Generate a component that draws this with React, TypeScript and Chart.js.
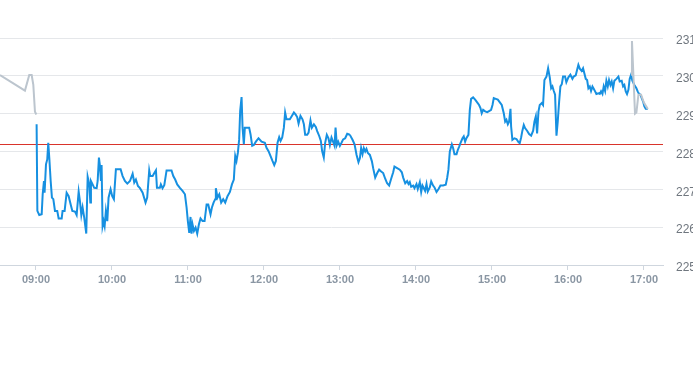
import React, { useEffect, useRef } from "react";
import { Chart, registerables } from "chart.js";

Chart.register(...registerables);

// x values: minutes since midnight
const xMin = 511.6;
const xMax = 1035;
const hourTicks = [540, 600, 660, 720, 780, 840, 900, 960, 1020];
const yTicks = [225, 226, 227, 228, 229, 230, 231];
const previousClose = 228.21;

const preTimes = [511.6, 531.3, 534.7, 536.6, 537.9, 539.2, 540.3];
const prePrices = [230.02, 229.61, 230.02, 230.02, 229.76, 229.05, 228.98];

const postTimes = [1009.8, 1010.5, 1012.9, 1014.0, 1015.6, 1017.7, 1019.8, 1023.0];
const postPrices = [230.03, 230.92, 229.0, 229.03, 229.5, 229.5, 229.3, 229.12];

const mainTimes = [
  540.5, 541.1, 542.6, 544.5, 545.3, 546.3, 546.8, 547.9, 548.9, 549.7, 550.5, 551.6, 552.6, 553.7, 555.0, 556.8,
  557.9, 560.3, 561.0, 562.6, 564.2, 565.8, 567.4, 568.7, 570.8, 572.1, 573.7, 574.7, 575.8, 576.8, 578.1, 579.7,
  580.8, 582.1, 582.9, 583.4, 584.7, 586.0, 587.9, 588.7, 589.7, 590.5, 591.3, 591.8, 592.6, 593.4, 594.2, 595.2,
  596.3, 597.3, 598.9, 600.2, 601.5, 603.1, 606.8, 608.4, 610.2, 612.1, 614.2, 616.3, 617.6, 618.9, 620.5, 622.1,
  624.2, 626.5, 627.8, 629.4, 630.2, 632.1, 633.1, 634.7, 635.5, 637.8, 638.6, 639.9, 641.3, 643.1, 647.0, 648.4,
  649.9, 651.5, 653.6, 655.7, 657.6, 658.9, 659.9, 661.0, 662.0, 662.8, 663.6, 664.7, 666.0, 667.3, 668.6, 669.9,
  671.5, 673.1, 674.7, 676.0, 677.8, 678.9, 680.2, 681.5, 682.0, 683.3, 684.7, 686.2, 687.8, 689.4, 691.2, 693.1,
  694.7, 696.2, 697.3, 698.3, 699.4, 700.4, 701.2, 702.3, 703.1, 704.1, 704.9, 708.3, 709.4, 710.7, 712.0, 713.6,
  715.7, 718.1, 720.7, 722.0, 723.6, 725.2, 726.7, 728.1, 729.4, 730.7, 732.0, 733.1, 734.4, 735.7, 736.7, 737.8,
  740.4, 742.0, 743.6, 744.9, 746.2, 747.3, 748.8, 750.4, 751.5, 752.5, 754.1, 755.2, 756.7, 757.8, 759.4, 760.9,
  762.0, 763.6, 764.9, 765.9, 767.2, 768.3, 769.6, 770.9, 772.0, 773.3, 774.3, 775.7, 776.5, 777.5, 778.6, 779.9,
  781.2, 782.5, 784.1, 785.7, 787.2, 787.8, 789.9, 791.5, 793.1, 794.6, 795.7, 796.7, 797.8, 798.8, 799.9, 800.9,
  802.0, 803.6, 805.2, 806.2, 807.8, 809.4, 810.9, 812.5, 814.1, 815.7, 817.2, 818.8, 820.4, 822.0, 823.0, 825.1,
  827.2, 828.8, 829.9, 831.5, 833.0, 834.1, 835.1, 836.2, 837.8, 838.8, 840.4, 841.4, 843.0, 844.1, 845.1, 846.2,
  847.2, 848.3, 849.3, 850.9, 852.0, 853.5, 854.6, 856.2, 857.8, 859.3, 861.4, 863.5, 864.6, 865.6, 866.7, 868.3,
  869.3, 870.4, 872.0, 873.0, 874.1, 875.1, 876.7, 877.7, 878.8, 879.8, 881.4, 882.5, 883.5, 885.1, 886.7, 888.3,
  889.8, 890.9, 891.9, 893.0, 894.6, 896.2, 897.7, 899.3, 900.4, 901.4, 903.0, 904.6, 906.2, 907.7, 909.3, 910.4,
  911.4, 912.5, 913.5, 914.6, 915.1, 916.1, 917.7, 919.3, 920.9, 921.9, 923.0, 924.0, 925.1, 926.1, 927.7, 929.3,
  930.9, 932.5, 933.5, 934.6, 935.6, 936.7, 937.7, 939.3, 940.3, 941.4, 943.0, 944.3, 945.6, 946.7, 947.7, 948.8,
  949.8, 950.9, 951.9, 953.0, 954.0, 955.1, 956.1, 957.7, 958.7, 960.3, 961.9, 963.5, 964.5, 966.1, 967.2, 968.2,
  969.3, 970.8, 971.9, 972.9, 974.0, 975.1, 976.1, 977.2, 978.2, 979.3, 980.3, 981.4, 982.4, 984.0, 985.1, 986.1,
  987.2, 988.2, 989.3, 990.3, 991.4, 992.4, 993.5, 994.5, 995.6, 996.6, 998.2, 999.8, 1000.8, 1002.4, 1003.5, 1004.5,
  1005.6, 1006.6, 1007.7, 1008.7, 1009.8, 1010.8, 1012.4, 1014.0, 1015.0, 1016.1, 1017.2, 1018.2, 1019.3, 1020.3, 1021.4, 1023.0,
];

const mainPrices = [
  228.72, 226.43, 226.32, 226.34, 226.87, 227.22, 226.91, 227.66, 227.79, 228.23, 227.84, 227.22, 226.78, 226.74, 226.43, 226.43,
  226.23, 226.23, 226.43, 226.43, 226.91, 226.82, 226.6, 226.43, 226.41, 226.32, 226.94, 226.69, 226.32, 226.52, 226.25, 225.83,
  227.33, 227.13, 226.65, 227.22, 227.13, 227.04, 227.03, 227.22, 227.84, 227.62, 227.22, 227.64, 226.03, 226.16, 226.03, 226.43,
  226.16, 226.78, 227.0, 226.82, 226.74, 227.53, 227.53, 227.35, 227.22, 227.15, 227.22, 227.41, 227.18, 227.26, 227.09, 227.03,
  226.91, 226.65, 226.78, 227.5, 227.35, 227.35, 227.41, 227.5, 227.04, 227.04, 227.13, 227.03, 227.11, 227.5, 227.5, 227.35,
  227.26, 227.13, 227.04, 226.96, 226.87, 226.52, 226.16, 225.85, 226.27, 225.83, 226.07, 225.9, 225.99, 225.83, 226.07, 226.23,
  226.16, 226.16, 226.6, 226.6, 226.34, 226.52, 226.65, 226.74, 227.03, 226.78, 226.87, 226.65, 226.74, 226.65, 226.82, 226.93,
  227.13, 227.26, 227.88, 227.75, 227.97, 228.32, 229.07, 229.44, 228.63, 228.19, 228.63, 228.63, 228.45, 228.15, 228.17, 228.26,
  228.35, 228.26, 228.23, 228.1, 228.01, 227.88, 227.75, 227.64, 227.75, 228.23, 228.38, 228.28, 228.37, 228.63, 229.03, 228.85,
  228.85, 228.94, 229.03, 228.98, 228.91, 228.74, 228.94, 228.85, 228.72, 228.44, 228.44, 228.5, 228.82, 228.63, 228.72, 228.65,
  228.54, 228.41, 228.28, 228.01, 227.84, 228.23, 228.44, 228.35, 228.17, 228.37, 228.28, 228.15, 228.63, 228.17, 228.26, 228.15,
  228.23, 228.32, 228.35, 228.47, 228.45, 228.44, 228.31, 228.19, 227.91, 227.72, 227.82, 228.09, 227.93, 228.09, 228.0, 228.07,
  227.96, 227.91, 227.74, 227.56, 227.31, 227.43, 227.52, 227.47, 227.43, 227.28, 227.16, 227.1, 227.28, 227.45, 227.6, 227.56,
  227.52, 227.45, 227.31, 227.16, 227.22, 227.14, 227.19, 227.07, 227.1, 227.03, 227.14, 227.01, 227.19, 226.93, 227.1, 227.03,
  226.96, 227.14, 226.94, 227.05, 227.21, 227.1, 227.05, 226.93, 227.01, 227.1, 227.1, 227.12, 227.3, 227.52, 228.0, 228.19,
  228.09, 227.93, 227.93, 228.04, 228.13, 228.22, 228.35, 228.4, 228.26, 228.35, 228.44, 229.1, 229.39, 229.43, 229.37, 229.3,
  229.23, 229.15, 229.01, 229.1, 229.06, 229.04, 229.07, 229.1, 229.23, 229.41, 229.39, 229.37, 229.3, 229.23, 229.01, 228.79,
  228.84, 228.72, 228.79, 229.13, 228.66, 228.31, 228.35, 228.33, 228.25, 228.22, 228.37, 228.55, 228.7, 228.62, 228.55, 228.46,
  228.42, 228.55, 228.79, 228.93, 228.48, 229.06, 229.23, 229.28, 229.23, 229.89, 229.98, 230.2, 229.96, 229.67, 229.72, 229.6,
  229.5, 228.42, 228.79, 229.32, 229.72, 229.78, 229.98, 229.98, 229.83, 229.96, 230.03, 229.92, 229.98, 230.01, 230.16, 230.29,
  230.19, 230.13, 230.2, 230.07, 229.92, 229.89, 229.67, 229.72, 229.6, 229.72, 229.66, 229.59, 229.52, 229.54, 229.52, 229.59,
  229.52, 229.72, 229.6, 229.87, 229.72, 229.89, 229.76, 229.85, 229.67, 229.87, 229.92, 229.98, 229.85, 229.87, 229.72, 229.76,
  229.59, 229.52, 229.63, 229.92, 230.03, 229.87, 229.76, 229.67, 229.59, 229.52, 229.5, 229.41, 229.32, 229.19, 229.13, 229.12,
];

const toPoints = (xs: number[], ys: number[]) => xs.map((x, i) => ({ x, y: ys[i] }));

const fmtTime = (v: number) => {
  const h = Math.floor(v / 60);
  const m = Math.round(v - h * 60);
  return String(h).padStart(2, "0") + ":" + String(m).padStart(2, "0");
};

// reference (previous close) line, positioned through the y scale
const refLinePlugin = {
  id: "refLine",
  beforeDatasetsDraw(chart: any) {
    const { ctx, chartArea, scales } = chart;
    const y = Math.round(scales.y.getPixelForValue(previousClose));
    ctx.save();
    ctx.fillStyle = "#d9342b";
    ctx.fillRect(chartArea.left, y, chartArea.right - chartArea.left, 1);
    ctx.restore();
  },
};

export default function App() {
  const ref = useRef<HTMLCanvasElement | null>(null);

  useEffect(() => {
    if (!ref.current) return;
    const chart = new Chart(ref.current, {
      type: "line",
      data: {
        datasets: [
          {
            data: [...toPoints(preTimes, prePrices), { x: 800, y: null }, ...toPoints(postTimes, postPrices)] as any,
            borderColor: "#bcc5ce",
            borderWidth: 2,
            pointRadius: 0,
            tension: 0,
            spanGaps: false,
            order: 0,
          },
          {
            data: toPoints(mainTimes, mainPrices),
            borderColor: "#1690e1",
            borderWidth: 2,
            pointRadius: 0,
            tension: 0,
            order: 1,
          },
        ],
      },
      plugins: [refLinePlugin],
      options: {
        animation: false,
        responsive: false,
        parsing: false as any,
        normalized: true,
        layout: { padding: { top: 38, left: 0, right: 0, bottom: 5 } },
        plugins: { legend: { display: false }, tooltip: { enabled: false } },
        scales: {
          x: {
            type: "linear",
            min: xMin,
            max: xMax,
            afterBuildTicks: (scale: any) => {
              scale.ticks = hourTicks.map((v) => ({ value: v }));
            },
            afterFit: (scale: any) => {
              scale.height = 30;
            },
            grid: {
              drawOnChartArea: false,
              drawTicks: true,
              tickLength: 5,
              color: "#cfd6de",
            },
            border: { color: "#cfd6de" },
            ticks: {
              autoSkip: false,
              maxRotation: 0,
              padding: 3,
              color: "#8a96a3",
              font: { family: "'Liberation Sans', Arial, sans-serif", size: 11, weight: "bold" },
              callback: (v: any) => fmtTime(Number(v)),
            },
          },
          y: {
            position: "right",
            min: 225,
            max: 231,
            afterBuildTicks: (scale: any) => {
              scale.ticks = yTicks.map((v) => ({ value: v }));
            },
            afterFit: (scale: any) => {
              scale.width = 30;
            },
            grid: { color: "#e5e7ea", drawTicks: false },
            border: { display: false },
            ticks: {
              padding: 13,
              labelOffset: 3,
              color: "#6f767e",
              font: { family: "'Liberation Sans', Arial, sans-serif", size: 12 },
              callback: (v: any) => String(v),
            },
          },
        },
      },
    });
    return () => chart.destroy();
  }, []);

  return (
    <div style={{ position: "absolute", left: 0, top: 0, width: 693, height: 300, background: "#fff" }}>
      <canvas ref={ref} width={693} height={300} />
    </div>
  );
}
